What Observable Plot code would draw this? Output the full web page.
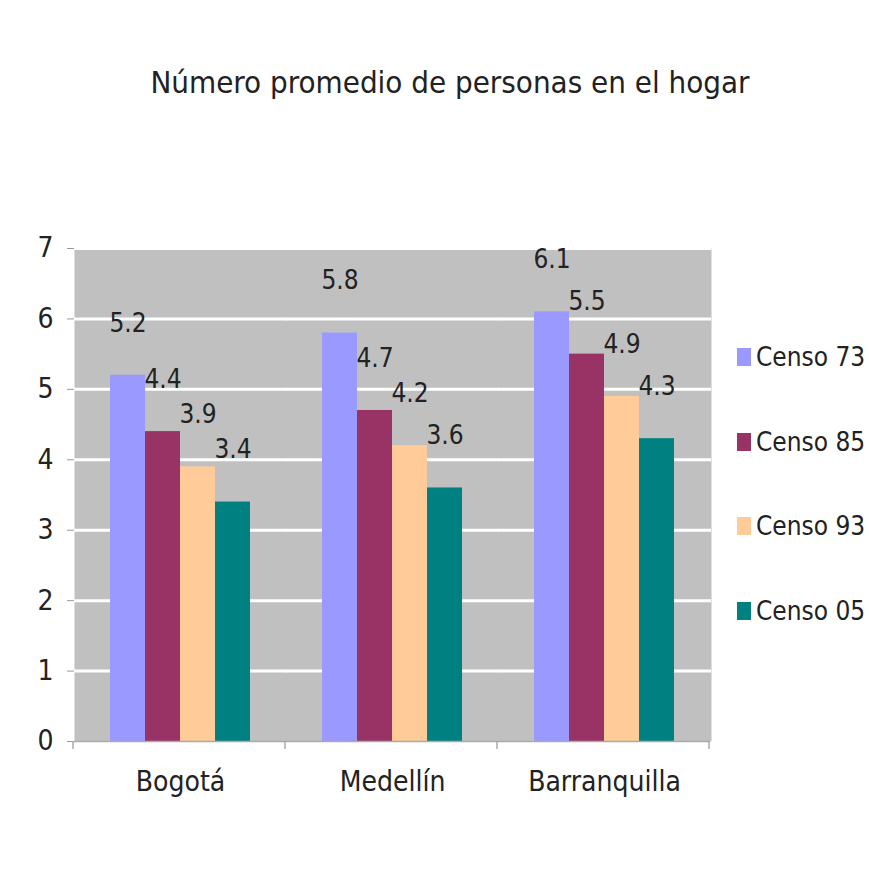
<!DOCTYPE html>
<html><head><meta charset="utf-8">
<script src="https://cdn.jsdelivr.net/npm/d3@7"></script>
<script src="https://cdn.jsdelivr.net/npm/@observablehq/plot@0.6"></script>
<style>
body{margin:0;background:#fff;}
#wrap{position:relative;width:869px;height:889px;overflow:hidden;font-family:"Liberation Sans Narrow","DejaVu Sans Condensed","Roboto Condensed","Liberation Sans",sans-serif;font-stretch:condensed;color:#222;}
#title{position:absolute;left:0;width:900px;top:64px;text-align:center;font-size:31px;white-space:nowrap;font-weight:300;}
#chart{position:absolute;left:0;top:200px;}
#legend{position:absolute;left:737px;top:315px;}
.row{display:flex;align-items:center;height:84.5px;font-size:26px;white-space:nowrap;}
.sw{width:14px;height:18px;margin-right:5px;flex:none;}
</style></head>
<body><div id="wrap">
<div id="title">Número promedio de personas en el hogar</div>
<div id="chart"></div>
<div id="legend"></div>
</div>
<script>
const title = "Número promedio de personas en el hogar";
const cities = ["Bogotá", "Medellín", "Barranquilla"];
const series = ["Censo 73", "Censo 85", "Censo 93", "Censo 05"];
const censo73 = [5.2, 5.8, 6.1];
const censo85 = [4.4, 4.7, 5.5];
const censo93 = [3.9, 4.2, 4.9];
const censo05 = [3.4, 3.6, 4.3];
const colors = ["#9999ff", "#993366", "#ffcc99", "#008080"];
const yTicks = [0, 1, 2, 3, 4, 5, 6, 7];

const seriesValues = [censo73, censo85, censo93, censo05];
const data = cities.flatMap((c, i) => series.map((s, j) => ({city: c, census: s, value: seriesValues[j][i]})));

const font = '"Liberation Sans Narrow","DejaVu Sans Condensed","Roboto Condensed","Liberation Sans",sans-serif';
const plot = Plot.plot({
  width: 869, height: 640,
  marginTop: 48, marginBottom: 99, marginLeft: 73, marginRight: 159,
  style: {fontFamily: font, fontSize: "28px", color: "#222", background: "transparent", fontStretch: "condensed"},
  fx: {domain: cities, padding: 0, label: null, axis: "bottom", tickSize: 0, tickPadding: 30},
  x: {domain: series, paddingInner: 0, paddingOuter: 1, axis: null},
  y: {domain: [0, 7], ticks: yTicks, tickFormat: "d", tickSize: 7, tickPadding: 14, label: null},
  color: {domain: series, range: colors},
  marks: [
    Plot.frame({fill: "#c0c0c0", stroke: null, insetRight: -1}),
    Plot.ruleY(yTicks.filter(d => d > 0), {stroke: "white", strokeWidth: 3, insetRight: -1}),
    Plot.barY(data, {fx: "city", x: "census", y: "value", fill: "census"}),
    Plot.text(data, {fx: "city", x: "census", y: "value", text: d => d.value.toFixed(1), dy: -52, fontSize: 26, fill: "#222"}),
    Plot.ruleY([0], {stroke: "#aaa", strokeWidth: 1.5})
  ]
});
document.getElementById("chart").appendChild(plot);
d3.select(plot).selectAll('[aria-label="y-axis tick"] path').attr("stroke", "#999");

// group separator ticks from the fx scale
const fx = plot.scale("fx");
const yS = plot.scale("y");
const y0 = yS.apply(0);
const bounds = d3.range(cities.length + 1).map(i => fx.range[0] + i * fx.step);
d3.select(plot).append("g").selectAll("line").data(bounds).join("line")
  .attr("x1", d => d).attr("x2", d => d).attr("y1", y0).attr("y2", y0 + 8)
  .attr("stroke", "#aaa").attr("stroke-width", 1.5);

const legend = d3.select("#legend");
series.forEach((s, i) => {
  const row = legend.append("div").attr("class", "row");
  row.append("div").attr("class", "sw").style("background", colors[i]);
  row.append("span").text(s);
});
</script>
</body></html>
